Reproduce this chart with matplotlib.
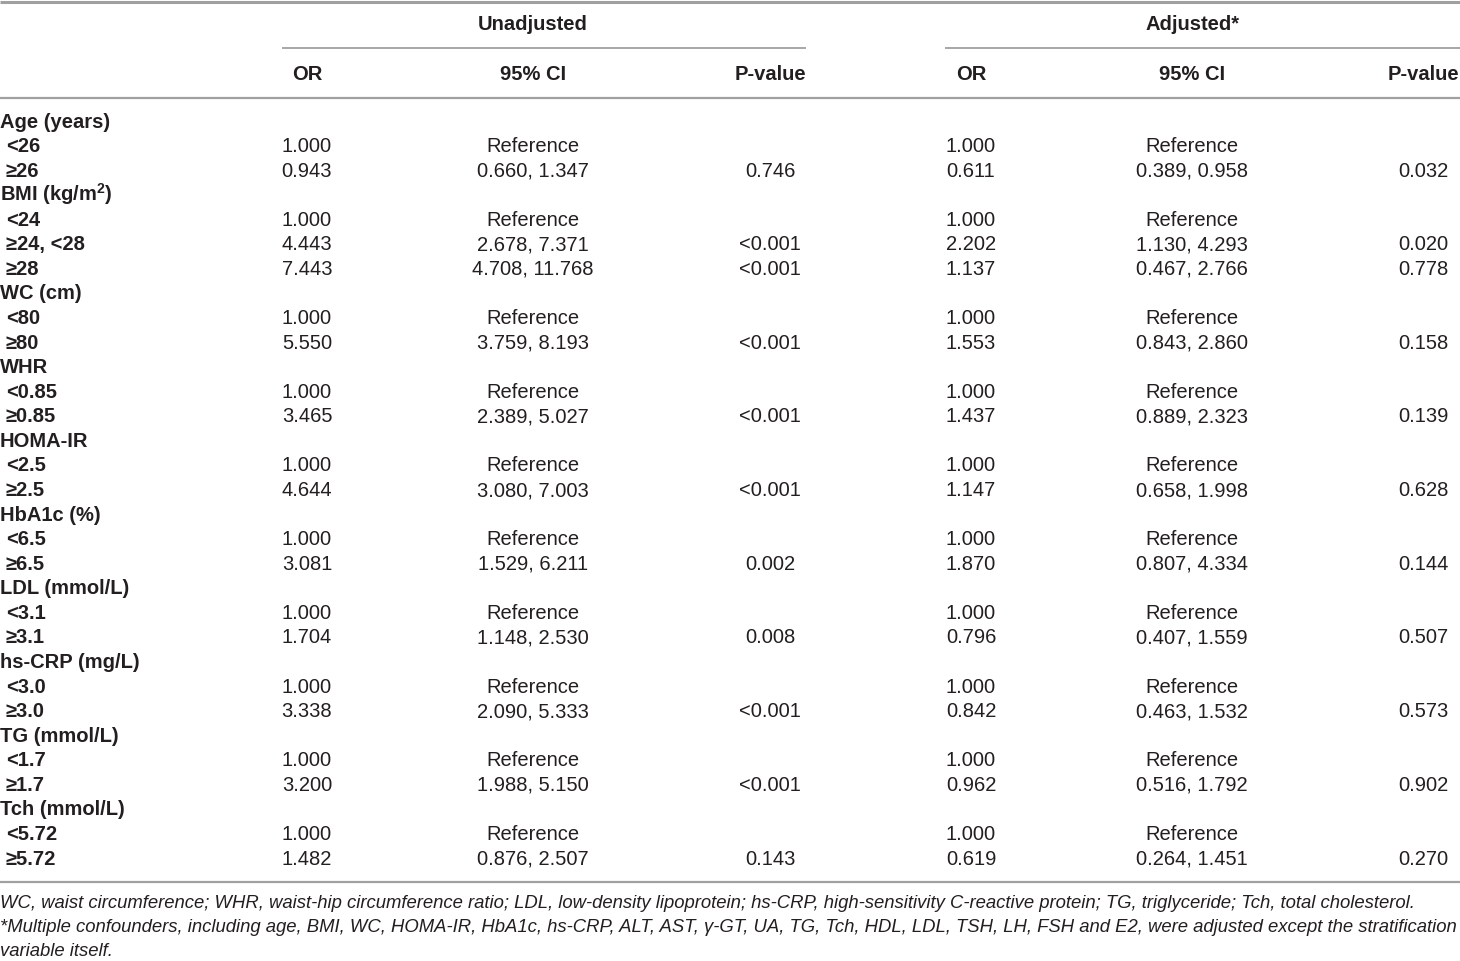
import matplotlib
matplotlib.use("Agg")
import matplotlib.pyplot as plt

plt.rcParams['font.family'] = ['Liberation Sans', 'DejaVu Sans']
plt.rcParams['mathtext.fontset'] = 'custom'
plt.rcParams['mathtext.rm'] = 'Liberation Sans:bold'
plt.rcParams['mathtext.bf'] = 'Liberation Sans:bold'

row_labels = [
    "Age (years)", " <26", " ≥26",
    r"BMI (kg/m$^{\mathrm{2}}$)", " <24", " ≥24, <28", " ≥28",
    "WC (cm)", " <80", " ≥80",
    "WHR", " <0.85", " ≥0.85",
    "HOMA-IR", " <2.5", " ≥2.5",
    "HbA1c (%)", " <6.5", " ≥6.5",
    "LDL (mmol/L)", " <3.1", " ≥3.1",
    "hs-CRP (mg/L)", " <3.0", " ≥3.0",
    "TG (mmol/L)", " <1.7", " ≥1.7",
    "Tch (mmol/L)", " <5.72", " ≥5.72",
]
unadj_or = ["", "1.000", "0.943", "", "1.000", "4.443", "7.443", "", "1.000", "5.550",
            "", "1.000", "3.465", "", "1.000", "4.644", "", "1.000", "3.081", "", "1.000", "1.704",
            "", "1.000", "3.338", "", "1.000", "3.200", "", "1.000", "1.482"]
unadj_ci = ["", "Reference", "0.660, 1.347", "", "Reference", "2.678, 7.371", "4.708, 11.768",
            "", "Reference", "3.759, 8.193", "", "Reference", "2.389, 5.027",
            "", "Reference", "3.080, 7.003", "", "Reference", "1.529, 6.211",
            "", "Reference", "1.148, 2.530", "", "Reference", "2.090, 5.333",
            "", "Reference", "1.988, 5.150", "", "Reference", "0.876, 2.507"]
unadj_p = ["", "", "0.746", "", "", "<0.001", "<0.001", "", "", "<0.001",
           "", "", "<0.001", "", "", "<0.001", "", "", "0.002", "", "", "0.008",
           "", "", "<0.001", "", "", "<0.001", "", "", "0.143"]
adj_or = ["", "1.000", "0.611", "", "1.000", "2.202", "1.137", "", "1.000", "1.553",
          "", "1.000", "1.437", "", "1.000", "1.147", "", "1.000", "1.870", "", "1.000", "0.796",
          "", "1.000", "0.842", "", "1.000", "0.962", "", "1.000", "0.619"]
adj_ci = ["", "Reference", "0.389, 0.958", "", "Reference", "1.130, 4.293", "0.467, 2.766",
          "", "Reference", "0.843, 2.860", "", "Reference", "0.889, 2.323",
          "", "Reference", "0.658, 1.998", "", "Reference", "0.807, 4.334",
          "", "Reference", "0.407, 1.559", "", "Reference", "0.463, 1.532",
          "", "Reference", "0.516, 1.792", "", "Reference", "0.264, 1.451"]
adj_p = ["", "", "0.032", "", "", "0.020", "0.778", "", "", "0.158",
         "", "", "0.139", "", "", "0.628", "", "", "0.144", "", "", "0.507",
         "", "", "0.573", "", "", "0.902", "", "", "0.270"]

group_headers = ["Unadjusted", "Adjusted*"]
col_headers = ["OR", "95% CI", "P-value", "OR", "95% CI", "P-value"]
footnotes = [
    "WC, waist circumference; WHR, waist-hip circumference ratio; LDL, low-density lipoprotein; hs-CRP, high-sensitivity C-reactive protein; TG, triglyceride; Tch, total cholesterol.",
    "*Multiple confounders, including age, BMI, WC, HOMA-IR, HbA1c, hs-CRP, ALT, AST, γ-GT, UA, TG, Tch, HDL, LDL, TSH, LH, FSH and E2, were adjusted except the stratification",
    "variable itself.",
]

W, H = 1460, 961
fig = plt.figure(figsize=(W / 100, H / 100), dpi=100)
ax = fig.add_axes([0, 0, 1, 1])
ax.set_xlim(0, W)
ax.set_ylim(H, 0)
ax.axis('off')

txt = '#231f20'
line_c = '#a0a0a0'
fs = 14.5

# rules
ax.plot([0, W], [1.5, 1.5], color=line_c, lw=2.2, solid_capstyle='butt')
ax.plot([282, 806], [48, 48], color=line_c, lw=1.3, solid_capstyle='butt')
ax.plot([945, W], [48, 48], color=line_c, lw=1.3, solid_capstyle='butt')
ax.plot([0, W], [97.5, 97.5], color=line_c, lw=1.6, solid_capstyle='butt')
ax.plot([0, W], [882, 882], color=line_c, lw=1.6, solid_capstyle='butt')

# headers
ax.text(533, 30.5, group_headers[0], ha='center', va='baseline', fontsize=fs, fontweight='bold', color=txt)
ax.text(1192, 30.5, group_headers[1], ha='center', va='baseline', fontsize=fs, fontweight='bold', color=txt)
col_x = [307, 533, 770, 971, 1192, 1423]
for x, h in zip(col_x, col_headers):
    ax.text(x, 79.5, h, ha='center', va='baseline', fontsize=fs, fontweight='bold', color=txt)

# body
y0, dy = 127.5, 24.57
cols = [unadj_or, unadj_ci, unadj_p, adj_or, adj_ci, adj_p]
for i, lab in enumerate(row_labels):
    y = y0 + i * dy
    ax.text(0 if not lab.startswith(' ') else 6, y, lab.strip(), ha='left', va='baseline',
            fontsize=fs, fontweight='bold', color=txt)
    for x, col in zip(col_x, cols):
        if col[i]:
            ax.text(x, y, col[i], ha='center', va='baseline', fontsize=fs, color=txt)

# footnotes
for j, f in enumerate(footnotes):
    ax.text(0, 907.5 + j * 24.3, f, ha='left', va='baseline', fontsize=13.3, style='italic', color=txt)

fig.savefig('out.png', dpi=100)
